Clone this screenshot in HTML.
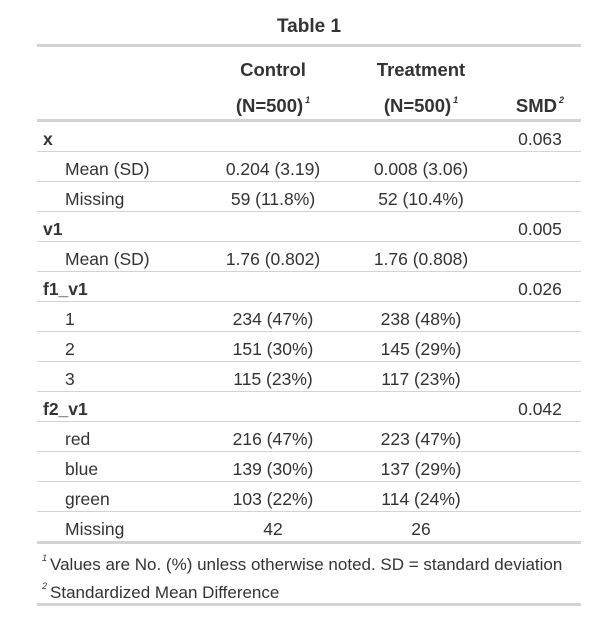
<!DOCTYPE html>
<html><head><meta charset="utf-8"><style>
body{margin:0;width:602px;height:627px;background:#fff;font-family:"Liberation Sans",sans-serif;color:#333;position:relative;overflow:hidden}
.a{position:absolute;white-space:nowrap;font-size:17.5px;line-height:20px}
.hl{position:absolute;left:37px;width:544px;background:#d3d3d3}
.c{transform:translateX(-50%)}
.b{font-weight:bold}
.h{font-size:18.5px}
sup{font-size:9px;font-style:italic;vertical-align:9px;margin-left:2px}
</style></head><body>
<div class="a b c" style="left:309px;top:17px;font-size:19px">Table 1</div>
<div class="hl" style="top:44px;height:3px"></div>
<div class="a b c h" style="left:273px;top:60px">Control</div>
<div class="a b c h" style="left:273px;top:90px">(N=500)<sup>1</sup></div>
<div class="a b c h" style="left:421px;top:60px">Treatment</div>
<div class="a b c h" style="left:421px;top:90px">(N=500)<sup>1</sup></div>
<div class="a b c h" style="left:540px;top:90px">SMD<sup>2</sup></div>
<div class="hl" style="top:119px;height:3px"></div>
<div id="rows"></div>
<div class="hl" style="top:541px;height:3px"></div>
<div class="a" style="left:42px;top:548px;font-size:17px"><sup style="margin:0 3px 0 0">1</sup>Values are No. (%) unless otherwise noted. SD = standard deviation</div>
<div class="a" style="left:42px;top:576px;font-size:17px"><sup style="margin:0 3px 0 0">2</sup>Standardized Mean Difference</div>
<div class="hl" style="top:603px;height:3px"></div>
<script>
const labels=["x","Mean (SD)","Missing","v1","Mean (SD)","f1_v1","1","2","3","f2_v1","red","blue","green","Missing"];
const groupRow=[1,0,0,1,0,1,0,0,0,1,0,0,0,0];
const controlVals=["","0.204 (3.19)","59 (11.8%)","","1.76 (0.802)","","234 (47%)","151 (30%)","115 (23%)","","216 (47%)","139 (30%)","103 (22%)","42"];
const treatmentVals=["","0.008 (3.06)","52 (10.4%)","","1.76 (0.808)","","238 (48%)","145 (29%)","117 (23%)","","223 (47%)","137 (29%)","114 (24%)","26"];
const smdVals=["0.063","","","0.005","","0.026","","","","0.042","","","",""];
const root=document.getElementById('rows');
function mk(cls,txt,style){const d=document.createElement('div');d.className=cls;d.textContent=txt;d.style.cssText=style;root.appendChild(d);return d;}
labels.forEach((l,i)=>{
  const top=122+30*i;
  const lab=mk('a'+(groupRow[i]?' b':''),l,'left:'+(groupRow[i]?43:65)+'px;top:'+(top+7)+'px');
  
  
  const cv=mk('a c',controlVals[i],'left:273px;top:'+(top+7)+'px');
  
  
  const tv=mk('a c',treatmentVals[i],'left:421px;top:'+(top+7)+'px');
  
  
  const sv=mk('a c',smdVals[i],'left:540px;top:'+(top+7)+'px');
  
  
  if(i<labels.length-1){
    const ln=mk('hl','','top:'+(top+29)+'px;height:1px');
    
    
  }
});
</script>
</body></html>
